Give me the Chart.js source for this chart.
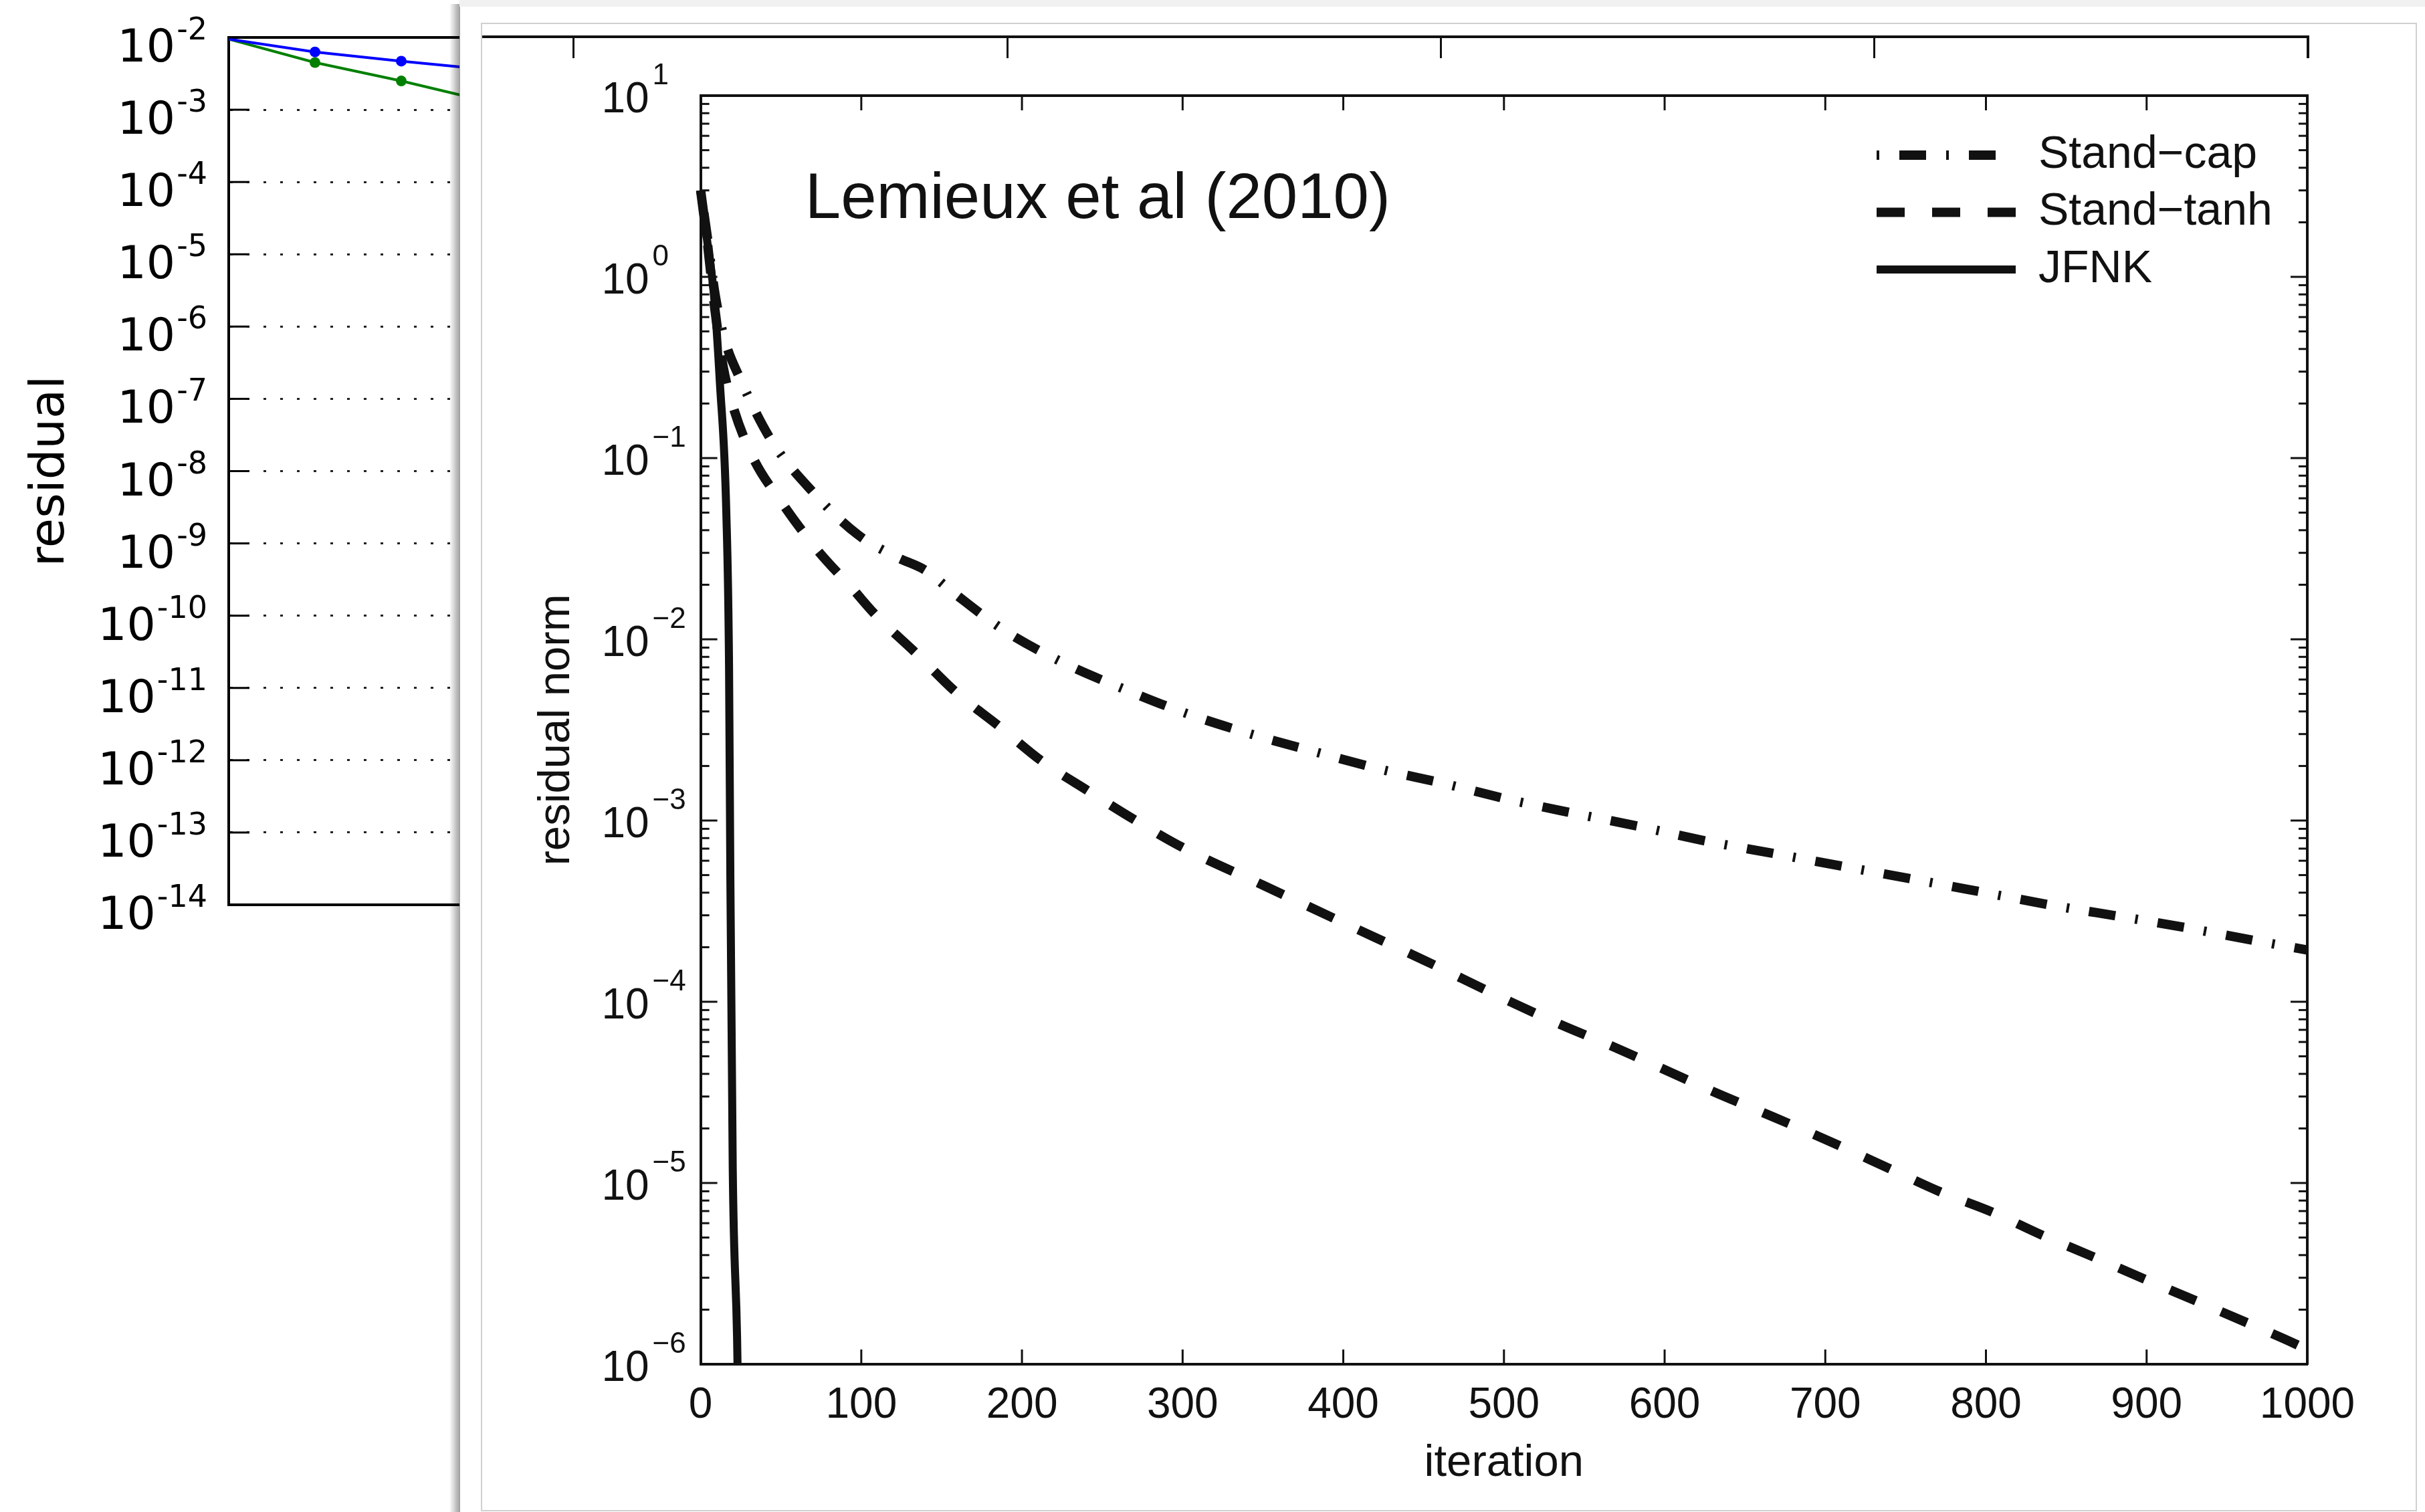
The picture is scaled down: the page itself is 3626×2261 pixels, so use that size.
<!DOCTYPE html>
<html><head><meta charset="utf-8">
<script src="https://cdn.jsdelivr.net/npm/chart.js@4.4.1/dist/chart.umd.min.js"></script>
<style>
html,body{margin:0;padding:0;background:#fff;}
body{width:3626px;height:2261px;position:relative;overflow:hidden;}
.abs{position:absolute;}
</style></head><body>
<div id="winA" class="abs" style="left:0;top:0;width:687px;height:2261px;overflow:hidden;">
  <canvas id="bgChart" width="1700" height="1450" style="position:absolute;left:0;top:0;"></canvas>
</div>
<div class="abs" style="left:672px;top:6px;width:16px;height:2255px;background:linear-gradient(to right, rgba(0,0,0,0), rgba(0,0,0,0.38));"></div>
<div class="abs" style="left:687px;top:0;width:2939px;height:10px;background:#f1f1f1;"></div>
<div class="abs" style="left:719px;top:34px;width:2895px;height:2226px;border:2px solid #d0d0d0;box-sizing:border-box;"></div>
<div id="winB" class="abs" style="left:721px;top:36px;width:2891px;height:51px;overflow:hidden;">
  <canvas id="stripChart" width="3520" height="400" style="position:absolute;left:-721px;top:-36px;"></canvas>
</div>
<canvas id="mainChart" class="abs" width="2892" height="2171" style="left:720px;top:87px;"></canvas>
<script>
// ---------------- data: foreground chart ----------------
const seriesNames = ['Stand\u2212cap', 'Stand\u2212tanh', 'JFNK'];
const capIter = [0, 4, 9, 15, 24.6, 43.6, 69.5, 98, 122, 140, 157, 189, 226, 264, 302, 342, 382, 422, 464, 504, 545, 586, 626, 667, 722, 763, 804, 845, 886, 927, 968, 1000];
const capResidual = [3.0, 1.7, 0.8, 0.45, 0.274, 0.127, 0.0655, 0.0377, 0.0284, 0.024, 0.0182, 0.0112, 0.0074, 0.00529, 0.00391, 0.00301, 0.0024, 0.00193, 0.00159, 0.0013, 0.00109, 0.00092, 0.00077, 0.00066, 0.000536, 0.00046, 0.000393, 0.000336, 0.000293, 0.000254, 0.000217, 0.000193];
const tanhIter = [0, 4, 9, 14, 20, 32, 51, 72, 95, 109, 134, 159, 186, 212, 241, 270, 300, 350, 400, 450, 504, 535, 567, 598, 630, 661, 700, 740, 772, 804, 835, 866, 899, 930, 962, 992, 1000];
const tanhResidual = [3.0, 1.6, 0.65, 0.32, 0.195, 0.103, 0.056, 0.0316, 0.0188, 0.0136, 0.0084, 0.0051, 0.0033, 0.00214, 0.00146, 0.00101, 0.00071, 0.00044, 0.000273, 0.00017, 0.0001, 7.5e-5, 5.7e-5, 4.3e-5, 3.2e-5, 2.45e-5, 1.74e-5, 1.2e-5, 8.9e-6, 6.9e-6, 5.15e-6, 3.94e-6, 2.94e-6, 2.25e-6, 1.7e-6, 1.3e-6, 1.2e-6];
const jfnkIter = [0, 4, 8.5, 12, 16, 17.7, 18.5, 20, 22.7, 23.5];
const jfnkResidual = [3.0, 1.6, 0.76, 0.26, 0.05, 0.007, 5e-4, 1.2e-5, 1.4e-6, 5e-7];
const xTicks = [0, 100, 200, 300, 400, 500, 600, 700, 800, 900, 1000];
const yExponents = [1, 0, -1, -2, -3, -4, -5, -6];
const annotationText = 'Lemieux et al (2010)';
const annotationAt = [65, 2.11];

// ---------------- data: background (partly hidden) chart ----------------
const bgIter = [0, 1, 2, 3];
const bgBlue = [0.0095, 0.0063, 0.0047, 0.0036];
const bgGreen = [0.0095, 0.0045, 0.0025, 0.0013];
const bgExponents = [-2, -3, -4, -5, -6, -7, -8, -9, -10, -11, -12, -13, -14];

const FG_FONT = "'Liberation Sans', Arial, Helvetica, sans-serif";
const BG_FONT = "'DejaVu Sans', sans-serif";
const INK = '#111';

function pts(xs, ys) { return xs.map((x, i) => ({x, y: ys[i]})); }

// ================= background chart =================
const bgPlugin = {
  id: 'bgAxis',
  afterDraw(chart) {
    const {ctx, chartArea: ca, scales: {y}} = chart;
    ctx.save();
    ctx.strokeStyle = '#000'; ctx.lineWidth = 3; ctx.fillStyle = '#000';
    bgExponents.forEach(e => {
      const py = y.getPixelForValue(Math.pow(10, e));
      ctx.beginPath(); ctx.moveTo(ca.left, py); ctx.lineTo(ca.left + 31, py); ctx.stroke();
      const sup = String(e);
      ctx.font = `46px ${BG_FONT}`; ctx.textAlign = 'right'; ctx.textBaseline = 'alphabetic';
      const supW = ctx.measureText(sup).width;
      const right = ca.left - 32;
      ctx.fillText(sup, right, py + 3);
      ctx.font = `68px ${BG_FONT}`;
      ctx.fillText('10', right - supW - 2, py + 36);
    });
    ctx.restore();
  }
};
new Chart(document.getElementById('bgChart'), {
  type: 'line',
  data: { datasets: [
    { data: pts(bgIter, bgBlue), borderColor: '#0000ff', backgroundColor: '#0000ff', borderWidth: 4,
      pointRadius: c => c.dataIndex === 0 ? 0 : 8, pointBorderWidth: 0, tension: 0 },
    { data: pts(bgIter, bgGreen), borderColor: '#008000', backgroundColor: '#008000', borderWidth: 4,
      pointRadius: c => c.dataIndex === 0 ? 0 : 8, pointBorderWidth: 0, tension: 0 }
  ]},
  options: {
    responsive: false, animation: false, devicePixelRatio: 1,
    layout: { padding: { left: 0, top: 56, right: 68, bottom: 97 } },
    plugins: { legend: { display: false }, tooltip: { enabled: false } },
    scales: {
      x: { type: 'linear', min: 0, max: 10, position: 'bottom',
           ticks: { display: false }, grid: { display: false, drawTicks: false },
           border: { display: true, width: 4, color: '#000' }, afterFit: s => { s.height = 0; } },
      x2: { type: 'linear', min: 0, max: 10, position: 'top',
           ticks: { display: false }, grid: { display: false, drawTicks: false },
           border: { display: true, width: 4, color: '#000' }, afterFit: s => { s.height = 0; } },
      y: { type: 'logarithmic', min: 1e-14, max: 1e-2, position: 'left',
           afterBuildTicks: s => { s.ticks = bgExponents.map(e => ({ value: Math.pow(10, e) })); },
           ticks: { display: false },
           grid: { display: true, drawTicks: false, color: '#222', lineWidth: 3 },
           border: { display: true, width: 4, color: '#000', dash: [4, 21] },
           title: { display: true, text: 'residual', color: '#000', font: { family: BG_FONT, size: 72 }, padding: { top: 33, bottom: 0 } },
           afterFit: s => { s.width = 342; } }
    }
  },
  plugins: [bgPlugin]
});

// ================= strip (second window frame) =================
new Chart(document.getElementById('stripChart'), {
  type: 'line',
  data: { datasets: [] },
  options: {
    responsive: false, animation: false, devicePixelRatio: 1,
    layout: { padding: { left: 209.5, top: 55, right: 69, bottom: 10 } },
    plugins: { legend: { display: false }, tooltip: { enabled: false } },
    scales: {
      x: { type: 'linear', position: 'top', min: 0, max: 5, ticks: { display: false, stepSize: 1 },
           grid: { display: true, drawTicks: false, color: INK, lineWidth: 3 },
           border: { display: true, width: 4, color: INK }, afterFit: s => { s.height = 0; } },
      y: { type: 'linear', position: 'right', min: 0, max: 1, ticks: { display: false },
           grid: { display: false, drawTicks: false },
           border: { display: true, width: 4, color: INK }, afterFit: s => { s.width = 0; } }
    }
  }
});

// ================= main chart =================
const fgPlugin = {
  id: 'fgAxis',
  afterLayout(chart) {
    const lg = chart.legend; const ca = chart.chartArea;
    if (!lg) return;
    const w = lg.width, h = lg.height;
    lg.left = ca.right - 661.5; lg.top = ca.top + 37.5;
    lg.right = lg.left + w; lg.bottom = lg.top + h;
  },
  afterDraw(chart) {
    const {ctx, chartArea: ca, scales} = chart;
    const xs = scales.x, ys = scales.y;
    const seg = (x1, y1, x2, y2) => { ctx.beginPath(); ctx.moveTo(x1, y1); ctx.lineTo(x2, y2); ctx.stroke(); };
    ctx.save();
    ctx.strokeStyle = INK; ctx.lineWidth = 3; ctx.lineCap = 'butt';
    xTicks.forEach(v => {
      const px = xs.getPixelForValue(v);
      seg(px, ca.bottom, px, ca.bottom - 22);
      seg(px, ca.top, px, ca.top + 22);
    });
    for (let e = -6; e <= 1; e++) {
      for (let m = 1; m <= 9; m++) {
        const v = m * Math.pow(10, e);
        if (v > 10.0001) break;
        const py = ys.getPixelForValue(v);
        const len = m === 1 ? 25 : 13;
        seg(ca.left, py, ca.left + len, py);
        seg(ca.right, py, ca.right - len, py);
      }
    }
    ctx.fillStyle = INK; ctx.textBaseline = 'alphabetic';
    const labelRight = ca.left - 77;
    yExponents.forEach(e => {
      const py = ys.getPixelForValue(Math.pow(10, e));
      ctx.font = `64px ${FG_FONT}`; ctx.textAlign = 'right';
      ctx.fillText('10', labelRight, py + 25);
      ctx.font = `44px ${FG_FONT}`; ctx.textAlign = 'left';
      ctx.fillText(e < 0 ? '\u2212' + Math.abs(e) : String(e), labelRight + 5, py - 17);
    });
    ctx.font = `96px ${FG_FONT}`; ctx.textAlign = 'left';
    ctx.fillText(annotationText, xs.getPixelForValue(annotationAt[0]), ys.getPixelForValue(annotationAt[1]));
    ctx.restore();
  }
};

const lineCommon = { borderColor: INK, backgroundColor: INK, pointRadius: 0, fill: false,
  cubicInterpolationMode: 'monotone', borderCapStyle: 'butt', clip: { left: 7, top: 7, right: 7, bottom: 0 } };

new Chart(document.getElementById('mainChart'), {
  type: 'line',
  data: { datasets: [
    Object.assign({ label: seriesNames[0], data: pts(capIter, capResidual), borderWidth: 14, borderDash: [4, 30, 40, 30] }, lineCommon),
    Object.assign({ label: seriesNames[1], data: pts(tanhIter, tanhResidual), borderWidth: 14, borderDash: [42, 41] }, lineCommon),
    Object.assign({ label: seriesNames[2], data: pts(jfnkIter, jfnkResidual), borderWidth: 12 }, lineCommon)
  ]},
  options: {
    responsive: false, animation: false, devicePixelRatio: 1,
    layout: { padding: { left: 0, top: 56, right: 162, bottom: 0 } },
    plugins: {
      tooltip: { enabled: false },
      legend: { display: true, position: 'chartArea', align: 'start',
        labels: { usePointStyle: true, pointStyle: 'line', pointStyleWidth: 208, color: INK,
                  font: { family: FG_FONT, size: 68 }, padding: 17.5,
                  generateLabels: chart => {
                    const items = Chart.defaults.plugins.legend.labels.generateLabels(chart);
                    items.forEach(it => {
                      const ds = chart.data.datasets[it.datasetIndex];
                      it.lineDash = ds.borderDash || [];
                      it.lineWidth = ds.borderWidth;
                      it.strokeStyle = INK;
                      it.fillStyle = INK;
                      it.lineCap = 'butt';
                      it.pointStyle = 'line';
                    });
                    return items;
                  } } }
    },
    scales: {
      x: { type: 'linear', position: 'bottom', min: 0, max: 1000,
           ticks: { stepSize: 100, autoSkip: false, maxRotation: 0, color: INK, padding: 24, font: { family: FG_FONT, size: 64 },
                    callback: v => String(v) },
           grid: { display: false, drawTicks: false },
           border: { display: true, width: 4, color: INK },
           title: { display: true, text: 'iteration', color: INK, font: { family: FG_FONT, size: 67 }, padding: { top: 0, bottom: 29 } },
           afterFit: s => { s.height = 218; } },
      x2: { type: 'linear', position: 'top', min: 0, max: 1000,
           ticks: { display: false }, grid: { display: false, drawTicks: false },
           border: { display: true, width: 4, color: INK }, afterFit: s => { s.height = 0; } },
      y: { type: 'logarithmic', position: 'left', min: 1e-6, max: 10,
           ticks: { display: false }, grid: { display: false, drawTicks: false },
           border: { display: true, width: 4, color: INK },
           title: { display: true, text: 'residual norm', color: INK, font: { family: FG_FONT, size: 67 }, padding: { top: 72.6, bottom: 0 } },
           afterFit: s => { s.width = 327.6; } },
      y2: { type: 'logarithmic', position: 'right', min: 1e-6, max: 10,
           ticks: { display: false }, grid: { display: false, drawTicks: false },
           border: { display: true, width: 4, color: INK }, afterFit: s => { s.width = 0; } }
    }
  },
  plugins: [fgPlugin]
});
</script>
</body></html>
